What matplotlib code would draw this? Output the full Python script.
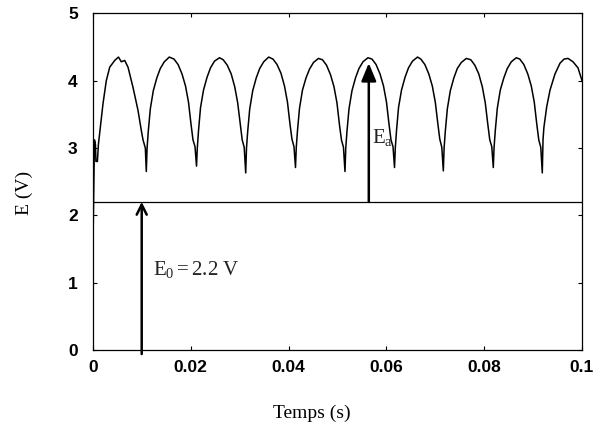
import matplotlib
matplotlib.use("Agg")
import matplotlib.pyplot as plt

# ---- data (time in ms, E in V) ----
t_ms = [
    0.00, 0.15, 0.30, 0.50, 0.60, 0.90, 1.10, 1.37, 2.05, 2.72, 3.42, 4.44, 5.21, 5.79, 6.48, 7.16, 8.18, 9.20, 9.88, 10.23, 10.70,
    10.90,
    11.06, 11.31, 11.72, 12.33, 13.05, 13.76, 14.58, 15.60, 16.57, 17.39, 18.20, 18.92, 19.53, 20.05, 20.45, 20.86,
    21.17,
    21.33, 21.58, 21.99, 22.60, 23.32, 24.03, 24.85, 25.87, 26.63, 27.45, 28.26, 28.98, 29.59, 30.11, 30.51, 30.92,
    31.23,
    31.39, 31.64, 32.05, 32.66, 33.38, 34.09, 34.91, 35.93, 36.81, 37.63, 38.44, 39.16, 39.77, 40.29, 40.69, 41.10,
    41.41,
    41.57, 41.82, 42.23, 42.84, 43.56, 44.27, 45.09, 46.11, 46.93, 47.75, 48.56, 49.28, 49.89, 50.41, 50.81, 51.22,
    51.53,
    51.69, 51.94, 52.35, 52.96, 53.68, 54.39, 55.21, 56.23, 57.06, 57.88, 58.69, 59.41, 60.02, 60.54, 60.94, 61.35,
    61.66,
    61.82, 62.07, 62.48, 63.09, 63.81, 64.52, 65.34, 66.36, 67.04, 67.86, 68.67, 69.39, 70.00, 70.52, 70.92, 71.33,
    71.64,
    71.80, 72.05, 72.46, 73.07, 73.79, 74.50, 75.32, 76.34, 77.26, 78.08, 78.89, 79.61, 80.22, 80.74, 81.14, 81.55,
    81.86,
    82.02, 82.27, 82.68, 83.29, 84.01, 84.72, 85.54, 86.56, 87.28, 88.10, 88.91, 89.63, 90.24, 90.76, 91.16, 91.57,
    91.88,
    92.03, 92.20, 92.78, 93.46, 94.48, 95.51, 96.33, 97.14, 98.16, 99.18, 100.00,
]
E_volts = [
    1.62, 2.40, 3.12, 3.05, 2.80, 2.80, 3.05, 3.22, 3.66, 4.00, 4.20, 4.30, 4.35, 4.28, 4.30, 4.20, 3.90, 3.56, 3.26, 3.12, 3.00,
    2.65,
    3.00, 3.25, 3.58, 3.85, 4.04, 4.18, 4.28, 4.35, 4.32, 4.24, 4.10, 3.92, 3.68, 3.35, 3.12, 3.02,
    2.73,
    3.00, 3.26, 3.60, 3.86, 4.05, 4.19, 4.29, 4.34, 4.31, 4.23, 4.10, 3.91, 3.67, 3.36, 3.12, 3.01,
    2.63,
    3.00, 3.25, 3.58, 3.85, 4.04, 4.18, 4.28, 4.35, 4.32, 4.24, 4.11, 3.92, 3.68, 3.35, 3.13, 3.02,
    2.71,
    3.01, 3.26, 3.59, 3.86, 4.04, 4.17, 4.27, 4.33, 4.31, 4.23, 4.09, 3.91, 3.67, 3.34, 3.12, 3.01,
    2.65,
    3.00, 3.25, 3.58, 3.85, 4.04, 4.18, 4.28, 4.34, 4.32, 4.24, 4.10, 3.92, 3.68, 3.35, 3.12, 3.02,
    2.71,
    3.00, 3.26, 3.60, 3.86, 4.05, 4.19, 4.29, 4.35, 4.32, 4.24, 4.10, 3.92, 3.68, 3.36, 3.13, 3.01,
    2.66,
    3.00, 3.25, 3.58, 3.85, 4.04, 4.18, 4.27, 4.33, 4.31, 4.23, 4.10, 3.91, 3.67, 3.35, 3.12, 3.02,
    2.71,
    3.01, 3.26, 3.59, 3.86, 4.04, 4.18, 4.28, 4.34, 4.32, 4.24, 4.10, 3.92, 3.68, 3.35, 3.12, 3.01,
    2.63,
    3.12, 3.30, 3.61, 3.86, 4.10, 4.26, 4.32, 4.33, 4.28, 4.19, 4.00,
]

E0 = 2.2
E0_arrow_t = 0.00996
Ea_arrow_t = 0.0564
Ea_tip = 4.26

x_ticks = [0, 0.02, 0.04, 0.06, 0.08, 0.1]
x_ticklabels = ["0", "0.02", "0.04", "0.06", "0.08", "0.1"]
y_ticks = [0, 1, 2, 3, 4, 5]
y_ticklabels = ["0", "1", "2", "3", "4", "5"]

plt.rcParams["mathtext.fontset"] = "custom"
plt.rcParams["mathtext.rm"] = "Liberation Serif"
plt.rcParams["mathtext.it"] = "Liberation Serif:italic"

fig = plt.figure(figsize=(6.07, 4.37), dpi=100)
ax = fig.add_axes([93 / 607, 1 - 350 / 437, (582 - 93) / 607, (350 - 13.3) / 437])

t_s = [v / 1000.0 for v in t_ms]
ax.plot(t_s, E_volts, color="black", lw=1.1)
ax.axhline(E0, color="black", lw=0.9)

ax.set_xlim(0, 0.1)
ax.set_ylim(0, 5)
ax.set_xticks(x_ticks)
ax.set_xticklabels(x_ticklabels)
ax.set_yticks(y_ticks)
ax.set_yticklabels(y_ticklabels)
for lab in ax.get_xticklabels() + ax.get_yticklabels():
    lab.set_fontfamily("Liberation Sans")
    lab.set_fontweight("bold")
    lab.set_fontsize(12.5)
ax.tick_params(direction="in", length=3, width=0.8, top=True, right=True)
ax.tick_params(axis="y", pad=11)
ax.tick_params(axis="x", pad=7)
for sp in ax.spines.values():
    sp.set_linewidth(0.9)

ax.set_xlabel("Temps (s)", fontfamily="Liberation Serif", fontsize=14)
ax.set_ylabel("E (V)", fontfamily="Liberation Serif", fontsize=14)
ax.xaxis.set_label_coords(0.448, -0.162)
ax.yaxis.set_label_coords(-0.123, 0.466)

# E0 arrow (open head)
ax.annotate("", xy=(E0_arrow_t, E0), xytext=(E0_arrow_t, -0.06),
            arrowprops=dict(arrowstyle="->", lw=1.8, color="black",
                            mutation_scale=18, shrinkA=0, shrinkB=0),
            annotation_clip=False)
# Ea arrow (filled head)
ax.annotate("", xy=(Ea_arrow_t, Ea_tip), xytext=(Ea_arrow_t, E0),
            arrowprops=dict(arrowstyle="-|>,head_length=0.6,head_width=0.25", lw=1.8,
                            color="black", mutation_scale=18, shrinkA=0, shrinkB=0))

ax.text(0.0122, 1.19, r"$\mathrm{E_0 = 2.2\ V}$", fontsize=15, va="center", ha="left", color="#222222")
ax.text(0.0571, 3.16, r"$\mathrm{E_a}$", fontsize=15, va="center", ha="left", color="#222222")

fig.savefig("out.png", dpi=100, facecolor="white")
